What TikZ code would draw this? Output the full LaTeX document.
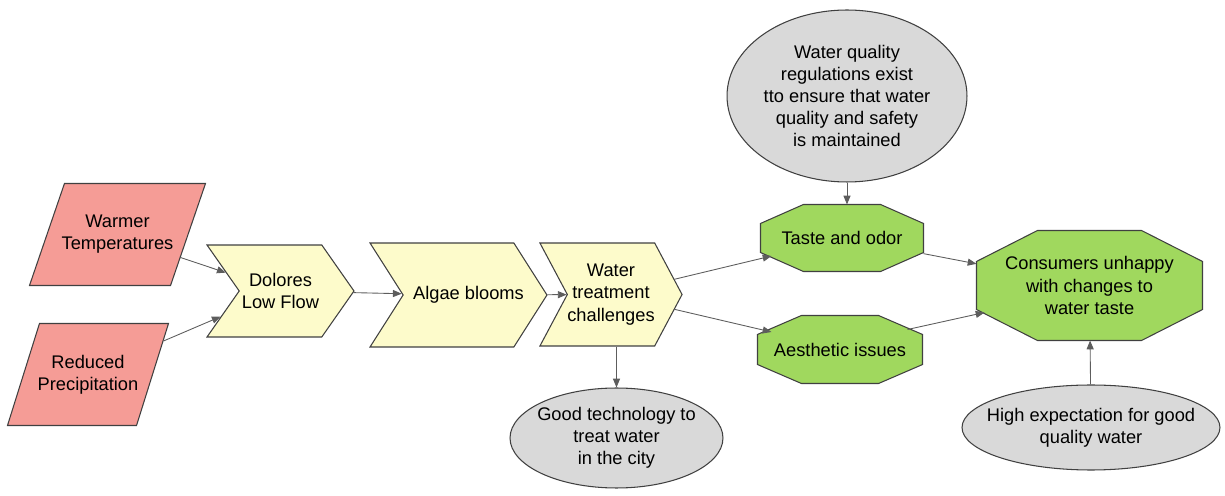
\documentclass[tikz,border=0pt]{standalone}
\usepackage{fontspec}
\setmainfont{Liberation Sans}
\usetikzlibrary{arrows.meta}
\usetikzlibrary{shapes.geometric}
\usetikzlibrary{shapes.symbols}
\usetikzlibrary{backgrounds}
\definecolor{causered}{HTML}{F59C96}
\definecolor{chevyellow}{HTML}{FDFBCB}
\definecolor{effectgreen}{HTML}{A0D85E}
\definecolor{contextgray}{HTML}{D9D9D9}
\definecolor{edgegray}{HTML}{404040}
\tikzset{
  base/.style={line width=0.6pt, align=center, inner sep=0pt,
    font=\fontsize{10.4pt}{12.6pt}\selectfont},
  outline/.style={draw=edgegray, line width=0.6pt, line join=miter},
  cause/.style={base, minimum height=2.02cm},
  chevron/.style={base, outline, signal, signal to=east, signal from=west, fill=chevyellow},
  effect/.style={base},
  context/.style={base, outline, ellipse, fill=contextgray},
  link/.style={draw=edgegray!85, line width=0.5pt, -{Triangle[length=5pt,width=4pt]}}
}
\begin{document}
\begin{tikzpicture}[x=0.02cm, y=-0.02cm]
    \useasboundingbox (0,0) rectangle (1225,496);

    % causes
    \node[cause, minimum width=3.5cm] (warm) at (117.5,234.5) {Warmer\\Temperatures};
    \node[cause, minimum width=3.2cm] (precip) at (88,374.5) {Reduced\\Precipitation};

    % chain of chevrons
    \node[chevron, signal pointer angle=110, minimum width=2.94cm, minimum height=1.84cm] (flow) at (280.5,291) {Dolores\\Low Flow};
    \node[chevron, inner xsep=-0.2cm, signal pointer angle=115, minimum width=3.46cm, minimum height=2.08cm] (algae) at (458.5,295) {\hspace*{0.4cm}Algae blooms};
    \node[chevron, signal pointer angle=124, minimum width=2.76cm, minimum height=2.06cm] (treat) at (611,294.5) {Water\\treatment\\challenges};

    % effects
    \node[effect, minimum width=3.24cm, minimum height=1.32cm] (taste) at (842,238) {Taste and odor};
    \node[effect, minimum width=3.28cm, minimum height=1.34cm] (aesth) at (840,349.5) {Aesthetic issues};
    \node[effect, minimum width=4.5cm, minimum height=2.18cm] (unhappy) at (1089.5,285.5) {Consumers unhappy\\with changes to\\water taste};

    % context
    \node[context, minimum width=4.8cm, minimum height=3.44cm] (regs) at (847,96)
      {Water quality\\regulations exist\\tto ensure that water\\quality and safety\\is maintained};
    \node[context, inner xsep=-0.12cm, minimum width=4.26cm, minimum height=2cm] (tech) at (616.5,438) {Good technology to\\treat water\\in the city};
    \node[context, inner xsep=-0.26cm, minimum width=5.16cm, minimum height=1.7cm] (expect) at (1091,427.5) {High expectation for good\\quality water};

    % parallelograms and octagons behind the texts
    \begin{scope}[on background layer]
        \foreach \n/\s in {warm/0.7, precip/0.64}
            \filldraw[outline, fill=causered] ([xshift=\s cm]\n.north west) -- (\n.north east)
                -- ([xshift=-\s cm]\n.south east) -- (\n.south west) -- cycle;
        \foreach \n/\cx/\cy in {taste/0.86/0.38, aesth/0.88/0.38, unhappy/1.22/0.62}
            \filldraw[outline, fill=effectgreen] ([xshift=\cx cm]\n.north west) -- ([xshift=-\cx cm]\n.north east)
                -- ([yshift=-\cy cm]\n.north east) -- ([yshift=\cy cm]\n.south east)
                -- ([xshift=-\cx cm]\n.south east) -- ([xshift=\cx cm]\n.south west)
                -- ([yshift=\cy cm]\n.south west) -- ([yshift=-\cy cm]\n.north west) -- cycle;
    \end{scope}

    \draw[link] ([xshift=-0.5cm,yshift=-0.46cm]warm.east) -- (flow);
    \draw[link] ([xshift=-0.1cm,yshift=0.67cm]precip.east) -- (flow);
    \draw[link] (flow) -- (algae);
    \draw[link] (algae) -- (treat);
    \draw[link] (treat) -- ([xshift=0.22cm,yshift=-0.36cm]taste.west);
    \draw[link] (treat) -- ([xshift=0.28cm,yshift=0.35cm]aesth.west);
    \draw[link] (taste) -- (unhappy);
    \draw[link] ([xshift=-0.3cm,yshift=0.4cm]aesth.east) -- ([xshift=0.16cm,yshift=-0.54cm]unhappy.west);
    \draw[link] (regs.south) -- (regs.south |- taste.north);
    \draw[link] (tech.north |- treat.south) -- (tech.north);
    \draw[link] (expect) -- (unhappy);
\end{tikzpicture}
\end{document}
